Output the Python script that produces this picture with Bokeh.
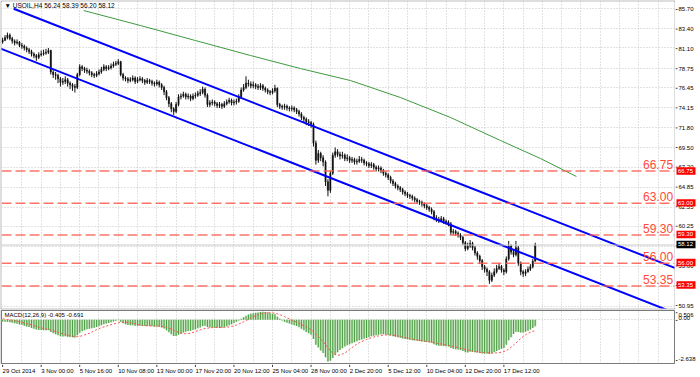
from bokeh.plotting import figure
from bokeh.models import Range1d, FixedTicker, Label, Span, ColumnDataSource
from bokeh.layouts import column, row
from bokeh.embed import file_html
from bokeh.resources import INLINE

# ---------------- data ----------------
first_open = 81.8
closes = [
    82.0, 82.3, 82.6, 82.2, 81.9, 81.7, 81.8, 81.4, 81.3, 81.1,
    80.9, 80.7, 80.4, 80.2, 80.0, 80.3, 80.4, 80.5, 80.6, 80.8,
    78.3, 78.0, 77.9, 77.5, 77.1, 77.2, 77.4, 77.0, 76.8, 76.6,
    76.5, 78.0, 78.9, 78.7, 78.5, 78.4, 78.2, 78.0, 77.9, 78.1,
    78.3, 78.6, 78.9, 78.7, 78.8, 79.0, 79.2, 79.3, 79.5, 78.0,
    77.6, 77.5, 77.3, 77.4, 77.6, 77.2, 77.4, 77.5, 77.3, 77.1,
    77.3, 77.2, 77.0, 76.9, 77.1, 76.8, 76.5, 76.0, 75.3, 74.6,
    74.0, 73.7, 74.5, 75.4, 75.5, 75.7, 75.4, 75.5, 75.2, 75.5,
    75.6, 75.8, 75.9, 76.3, 75.6, 74.5, 74.7, 74.8, 74.6, 74.4,
    74.5, 74.3, 74.6, 74.8, 75.0, 74.7, 74.8, 74.9, 75.4, 76.2,
    76.5, 77.0, 76.9, 76.7, 76.8, 76.6, 76.5, 76.7, 76.4, 76.2,
    76.0, 75.9, 76.1, 76.4, 74.5, 74.3, 74.2, 74.3, 74.1, 74.0,
    74.1, 73.9, 73.7, 73.4, 73.0, 72.8, 72.5, 72.4, 72.2, 70.0,
    68.0, 68.8, 68.3, 67.8, 65.5, 64.5, 66.5, 68.6, 69.0, 68.7,
    68.5, 68.6, 68.2, 68.3, 68.0, 68.1, 67.8, 67.9, 68.1, 68.0,
    67.7, 67.6, 67.4, 67.5, 67.2, 67.0, 67.1, 66.8, 66.5, 66.3,
    66.0, 65.6, 65.3, 65.0, 64.8, 64.6, 64.3, 64.1, 63.9, 63.8,
    63.6, 63.4, 63.2, 63.1, 62.9, 62.7, 62.5, 62.3, 62.0, 61.3,
    61.1, 61.0, 61.2, 60.9, 60.8, 60.6, 59.6, 59.7, 59.5, 59.3,
    59.0, 58.4, 57.7, 58.0, 58.3, 57.8, 57.2, 56.8, 56.3, 55.6,
    55.3, 55.0, 54.0, 54.6, 55.0, 55.4, 55.6, 55.2, 55.0, 56.5,
    58.0, 57.3, 57.0, 57.8, 56.0, 55.0, 54.8, 55.0, 55.3, 55.6,
    56.24, 58.12]
highs = [
    82.3, 82.6, 82.9, 82.8, 82.4, 82.1, 82.1, 81.9, 81.7, 81.5,
    81.3, 81.1, 80.9, 80.6, 80.4, 80.6, 80.8, 80.9, 81.0, 81.1,
    80.9, 78.5, 78.3, 78.1, 77.7, 77.6, 77.8, 77.6, 77.2, 77.0,
    76.9, 78.2, 79.2, 79.1, 78.9, 78.8, 78.6, 78.4, 78.2, 78.4,
    78.6, 78.9, 79.2, 79.1, 79.1, 79.3, 79.5, 79.6, 79.8, 79.6,
    78.2, 77.8, 77.7, 77.7, 77.9, 77.8, 77.7, 77.8, 77.7, 77.5,
    77.6, 77.5, 77.4, 77.2, 77.4, 77.3, 77.0, 76.7, 76.2, 75.5,
    74.8, 74.2, 74.8, 75.7, 75.8, 76.0, 75.9, 75.8, 75.7, 75.8,
    75.9, 76.1, 76.3, 76.6, 76.5, 75.8, 75.0, 75.1, 75.0, 74.8,
    74.8, 74.7, 74.9, 75.1, 75.3, 75.2, 75.1, 75.2, 75.7, 76.5,
    76.9, 77.8, 77.4, 77.2, 77.2, 77.0, 76.9, 77.0, 76.9, 76.6,
    76.4, 76.2, 76.4, 76.8, 76.5, 74.7, 74.5, 74.6, 74.5, 74.3,
    74.4, 74.3, 74.1, 73.9, 73.6, 73.2, 73.0, 72.8, 72.6, 72.4,
    70.3, 69.2, 69.0, 68.6, 68.0, 65.8, 66.8, 68.9, 69.5, 69.3,
    69.0, 69.0, 68.8, 68.7, 68.5, 68.4, 68.3, 68.2, 68.5, 68.4,
    68.2, 67.9, 67.8, 67.8, 67.7, 67.4, 67.4, 67.3, 67.0, 66.7,
    66.5, 66.2, 65.8, 65.5, 65.2, 65.0, 64.8, 64.5, 64.3, 64.1,
    64.0, 63.8, 63.6, 63.4, 63.3, 63.1, 62.9, 62.7, 62.5, 62.2,
    61.6, 61.4, 61.5, 61.4, 61.1, 61.0, 60.8, 60.0, 59.9, 59.7,
    59.5, 59.2, 58.6, 58.4, 58.7, 58.5, 58.0, 57.4, 57.0, 56.5,
    55.8, 55.5, 55.2, 54.9, 55.4, 55.8, 56.0, 55.8, 55.4, 56.8,
    58.6, 58.2, 57.6, 58.6, 58.0, 56.2, 55.2, 55.3, 55.6, 55.9,
    56.5, 58.39]
lows = [
    81.6, 81.9, 82.1, 82.0, 81.6, 81.4, 81.5, 81.2, 81.0, 80.8,
    80.6, 80.4, 80.1, 79.9, 79.6, 79.8, 80.1, 80.2, 80.3, 80.4,
    78.0, 77.6, 77.4, 77.0, 76.6, 76.8, 76.9, 76.6, 76.3, 76.1,
    75.9, 76.3, 77.8, 78.4, 78.2, 78.1, 77.9, 77.7, 77.6, 77.7,
    77.9, 78.1, 78.4, 78.4, 78.5, 78.6, 78.8, 79.0, 79.1, 77.8,
    77.3, 77.2, 77.0, 77.1, 77.2, 76.9, 77.0, 77.2, 77.0, 76.8,
    76.9, 76.9, 76.7, 76.6, 76.7, 76.5, 76.2, 75.6, 75.0, 74.2,
    73.6, 73.3, 73.5, 74.3, 75.1, 75.3, 75.1, 75.1, 74.9, 75.0,
    75.2, 75.4, 75.5, 75.7, 75.3, 74.2, 74.2, 74.4, 74.3, 74.1,
    74.1, 74.0, 74.1, 74.4, 74.6, 74.4, 74.4, 74.5, 74.7, 75.2,
    76.0, 76.3, 76.6, 76.4, 76.4, 76.3, 76.2, 76.2, 76.1, 75.9,
    75.7, 75.6, 75.7, 75.9, 74.2, 74.0, 73.9, 73.9, 73.8, 73.7,
    73.7, 73.6, 73.4, 73.1, 72.7, 72.4, 72.1, 72.0, 71.8, 69.6,
    67.5, 67.7, 67.9, 67.3, 65.0, 63.8, 64.2, 66.3, 68.3, 68.4,
    68.1, 68.2, 67.9, 67.9, 67.7, 67.7, 67.5, 67.5, 67.7, 67.7,
    67.4, 67.3, 67.1, 67.1, 66.9, 66.7, 66.7, 66.5, 66.2, 66.0,
    65.7, 65.3, 65.0, 64.7, 64.5, 64.3, 64.0, 63.8, 63.6, 63.5,
    63.3, 63.1, 62.9, 62.8, 62.6, 62.4, 62.2, 62.0, 61.7, 61.0,
    60.8, 60.7, 60.8, 60.6, 60.5, 60.3, 59.3, 59.3, 59.2, 59.0,
    58.7, 58.1, 57.4, 57.5, 57.8, 57.5, 56.9, 56.4, 55.9, 55.2,
    54.9, 54.5, 53.6, 53.8, 54.4, 54.8, 55.2, 54.9, 54.6, 54.8,
    56.3, 57.0, 56.7, 56.8, 55.7, 54.6, 54.4, 54.5, 54.9, 55.1,
    55.4, 56.20]
macd_hist = [
    -0.10, -0.12, -0.12, -0.15, -0.18, -0.22, -0.25, -0.30, -0.33, -0.37,
    -0.42, -0.46, -0.52, -0.57, -0.62, -0.64, -0.65, -0.66, -0.66, -0.64,
    -0.78, -0.86, -0.92, -0.98, -1.04, -1.06, -1.05, -1.07, -1.09, -1.11,
    -1.12, -0.98, -0.82, -0.73, -0.66, -0.60, -0.56, -0.53, -0.50, -0.46,
    -0.41, -0.35, -0.28, -0.24, -0.20, -0.15, -0.10, -0.06, -0.02, -0.12,
    -0.22, -0.28, -0.33, -0.35, -0.35, -0.38, -0.38, -0.37, -0.38, -0.40,
    -0.39, -0.39, -0.41, -0.43, -0.42, -0.44, -0.48, -0.55, -0.66, -0.79,
    -0.92, -1.02, -1.03, -0.95, -0.88, -0.80, -0.76, -0.71, -0.70, -0.65,
    -0.60, -0.54, -0.48, -0.40, -0.38, -0.45, -0.48, -0.49, -0.50, -0.51,
    -0.52, -0.50, -0.46, -0.41, -0.35, -0.28, -0.20, -0.12, -0.04, 0.06,
    0.16, 0.26, 0.33, 0.38, 0.42, 0.45, 0.47, 0.49, 0.506, 0.49,
    0.46, 0.42, 0.38, 0.36, 0.20, 0.06, -0.05, -0.12, -0.18, -0.24,
    -0.29, -0.34, -0.40, -0.47, -0.56, -0.66, -0.77, -0.86, -0.95, -1.22,
    -1.58, -1.76, -1.94, -2.10, -2.38, -2.638, -2.60, -2.42, -2.22, -2.06,
    -1.92, -1.80, -1.70, -1.62, -1.55, -1.48, -1.42, -1.36, -1.30, -1.25,
    -1.20, -1.15, -1.10, -1.05, -1.01, -0.98, -0.94, -0.92, -0.92, -0.93,
    -0.96, -1.00, -1.04, -1.08, -1.11, -1.14, -1.18, -1.21, -1.24, -1.26,
    -1.29, -1.31, -1.33, -1.35, -1.37, -1.39, -1.41, -1.43, -1.46, -1.55,
    -1.61, -1.65, -1.64, -1.66, -1.67, -1.69, -1.79, -1.83, -1.86, -1.89,
    -1.92, -1.98, -2.06, -2.07, -2.03, -2.02, -2.05, -2.07, -2.10, -2.13,
    -2.13, -2.14, -2.16, -2.12, -2.06, -1.98, -1.90, -1.84, -1.78, -1.58,
    -1.30, -1.10, -0.90, -0.75, -0.78, -0.80, -0.80, -0.76, -0.70, -0.62,
    -0.52, -0.405]
macd_signal = [
    0.06, 0.04, 0.02, 0.00, -0.03, -0.06, -0.09, -0.12, -0.16, -0.20,
    -0.24, -0.28, -0.32, -0.37, -0.42, -0.47, -0.51, -0.55, -0.58, -0.61,
    -0.65, -0.69, -0.74, -0.79, -0.84, -0.89, -0.93, -0.97, -1.01, -1.04,
    -1.06, -1.07, -1.05, -1.01, -0.96, -0.91, -0.85, -0.78, -0.70, -0.62,
    -0.56, -0.50, -0.45, -0.40, -0.35, -0.31, -0.27, -0.23, -0.19, -0.16,
    -0.15, -0.15, -0.16, -0.18, -0.21, -0.25, -0.29, -0.33, -0.36, -0.37,
    -0.38, -0.38, -0.39, -0.39, -0.40, -0.40, -0.42, -0.44, -0.48, -0.53,
    -0.59, -0.66, -0.73, -0.79, -0.84, -0.87, -0.88, -0.87, -0.84, -0.80,
    -0.75, -0.69, -0.64, -0.59, -0.55, -0.53, -0.51, -0.49, -0.48, -0.48,
    -0.48, -0.48, -0.48, -0.47, -0.45, -0.42, -0.38, -0.33, -0.27, -0.20,
    -0.13, -0.05, 0.03, 0.11, 0.19, 0.26, 0.32, 0.37, 0.41, 0.44,
    0.45, 0.45, 0.44, 0.42, 0.38, 0.33, 0.27, 0.20, 0.13, 0.06,
    -0.01, -0.08, -0.15, -0.22, -0.30, -0.38, -0.46, -0.55, -0.64, -0.76,
    -0.90, -1.05, -1.22, -1.39, -1.58, -1.78, -1.96, -2.11, -2.21, -2.25,
    -2.23, -2.18, -2.10, -2.00, -1.88, -1.76, -1.64, -1.54, -1.45, -1.38,
    -1.31, -1.25, -1.19, -1.14, -1.09, -1.05, -1.02, -0.99, -0.97, -0.96,
    -0.96, -0.96, -0.98, -1.00, -1.03, -1.06, -1.09, -1.12, -1.16, -1.19,
    -1.22, -1.25, -1.28, -1.30, -1.32, -1.35, -1.37, -1.39, -1.41, -1.44,
    -1.47, -1.51, -1.54, -1.57, -1.60, -1.63, -1.66, -1.69, -1.72, -1.76,
    -1.80, -1.84, -1.88, -1.92, -1.95, -1.98, -2.01, -2.04, -2.06, -2.07,
    -2.08, -2.09, -2.10, -2.11, -2.11, -2.10, -2.08, -2.05, -2.01, -1.95,
    -1.86, -1.74, -1.61, -1.47, -1.33, -1.19, -1.06, -0.95, -0.86, -0.79,
    -0.73, -0.691]

ma_bars = [33.6, 57.2, 80.0, 102.9, 123.6, 144.4, 165.1, 185.9, 206.6, 223.2, 238.1]
ma_vals = [85.47, 83.72, 81.97, 80.22, 78.70, 77.30, 75.32, 72.99, 70.31, 68.21, 66.11]

upper_channel_bars = [4.6, 279.5]
upper_channel_vals = [85.67, 55.39]
lower_channel_bars = [-1.0, 276.0]
lower_channel_vals = [81.05, 50.52]

levels = [66.75, 63.00, 59.30, 56.00, 53.35]
last_price = 58.12
price_ticks = [85.70, 83.40, 81.10, 78.75, 76.45, 74.15, 71.80, 69.50, 67.20,
               64.85, 62.55, 60.25, 57.95, 55.60, 53.30, 50.95]
time_label_bars = [0, 16, 32, 48, 64, 80, 96, 112, 128, 144, 160, 176, 192, 208]
time_labels = ["29 Oct 2014", "3 Nov 00:00", "5 Nov 16:00", "10 Nov 08:00", "13 Nov 00:00",
               "17 Nov 20:00", "20 Nov 12:00", "25 Nov 04:00", "28 Nov 00:00", "2 Dec 20:00",
               "5 Dec 12:00", "10 Dec 04:00", "12 Dec 20:00", "17 Dec 12:00"]
grid_bars = list(range(8, 279, 8))
title_text = "\u25BC USOIL,H4  56.24 58.39 56.20 58.12"
macd_text = "MACD(12,26,9) -0.405 -0.691"
macd_ticks = [0.506, 0.0, -2.638]
macd_tick_labels = ["0.506", "0.00", "-2.638"]
macd_tick_baselines = ["top", "bottom", "bottom"]

N = len(closes)
assert len(highs) == N and len(lows) == N and len(macd_hist) == N and len(macd_signal) == N

opens = [first_open] + closes[:-1]
bars = list(range(N))
src = ColumnDataSource(dict(
    x=bars, o=opens, c=closes, h=highs, l=lows,
    top=[max(a, b) for a, b in zip(opens, closes)],
    bot=[min(a, b) for a, b in zip(opens, closes)],
    hist=macd_hist, sig=macd_signal))

FONT = "Liberation Sans"
GRID = "#c4c4c4"
BORDER = "#7a7a7a"
LEVEL = "#ff5a50"

XR = Range1d(-0.456, 278.8)
P_LO, P_HI = 50.72, 86.52
MAIN_H = 309
PX_PER_PRICE = (MAIN_H - 2) / (P_HI - P_LO)


def bare(fig):
    fig.toolbar.logo = None
    fig.background_fill_color = "white"
    fig.outline_line_color = None
    fig.xgrid.visible = False
    fig.ygrid.visible = False
    return fig


# ---------------- main price panel ----------------
p = figure(width=675, height=MAIN_H, x_range=XR, y_range=Range1d(P_LO, P_HI),
           output_backend="svg", toolbar_location=None,
           x_axis_location=None, y_axis_location=None,
           min_border_left=1, min_border_right=1, min_border_top=1, min_border_bottom=1)
p.background_fill_color = "white"
p.border_fill_color = BORDER
p.outline_line_color = None

p.xgrid.ticker = FixedTicker(ticks=grid_bars)
p.ygrid.ticker = FixedTicker(ticks=price_ticks)
for g in (p.xgrid, p.ygrid):
    g.grid_line_color = GRID
    g.grid_line_dash = "1 2"
    g.grid_line_width = 1

for lv in levels:
    p.add_layout(Span(location=lv, dimension="width", line_color=LEVEL,
                      line_dash="10 4", line_width=1.5, line_alpha=0.85))
p.add_layout(Span(location=last_price, dimension="width", line_color="#c8c8c8", line_width=1))

p.line(ma_bars, ma_vals, line_color="#3f9a3f", line_width=1)

p.segment(x0="x", y0="l", x1="x", y1="h", source=src, line_color="#111111", line_width=1)
p.vbar(x="x", width=0.5, top="top", bottom="bot", source=src,
       fill_color="#111111", line_color="#111111", line_width=0.5)

p.line(upper_channel_bars, upper_channel_vals, line_color="#0000ff", line_width=2)
p.line(lower_channel_bars, lower_channel_vals, line_color="#0000ff", line_width=2)

for lv in levels:
    p.add_layout(Label(x=278.2, y=lv + 2.0 / PX_PER_PRICE, text=f"{lv:.2f}",
                       text_align="right", text_baseline="bottom",
                       text_font=FONT, text_font_size="12px", text_color="#ff4a3a"))

p.add_layout(Label(x=0.8, y=P_HI - 4.0 / PX_PER_PRICE, text=title_text, text_align="left",
                   text_baseline="middle", text_font=FONT, text_font_size="6.5px",
                   text_color="#000000"))

# right price scale strip (shares the price range, 1 unit = 1 px horizontally)
r1 = figure(width=25, height=MAIN_H, x_range=Range1d(0, 25),
            y_range=Range1d(P_LO - 1 / PX_PER_PRICE, P_HI + 1 / PX_PER_PRICE),
            output_backend="svg", toolbar_location=None,
            x_axis_location=None, y_axis_location=None,
            min_border_left=0, min_border_right=0, min_border_top=0, min_border_bottom=0)
bare(r1)
r1.segment(x0=[0] * len(price_ticks), y0=price_ticks, x1=[2] * len(price_ticks), y1=price_ticks,
           line_color="#444444", line_width=1)
r1.text(x=[3] * len(price_ticks), y=price_ticks, text=[f"{t:.2f}" for t in price_ticks],
        text_font={"value": FONT}, text_font_size={"value": "6px"}, text_color="#000000",
        text_baseline="middle", text_align="left")
tag_vals = levels + [last_price]
tag_fill = ["#ff0000"] * len(levels) + ["#000000"]
r1.rect(x=[10.5] * len(tag_vals), y=tag_vals, width=[19] * len(tag_vals),
        height=[7.5 / PX_PER_PRICE] * len(tag_vals), fill_color=tag_fill, line_color=None)
r1.text(x=[2.5] * len(tag_vals), y=tag_vals, text=[f"{v:.2f}" for v in tag_vals],
        text_font={"value": FONT}, text_font_size={"value": "6px"}, text_color="#ffffff",
        text_baseline="middle", text_align="left")

# ---------------- MACD panel ----------------
M_LO, M_HI = -2.77, 0.59
MACD_H = 55
PX_PER_MACD = (MACD_H - 2) / (M_HI - M_LO)
m = figure(width=675, height=MACD_H, x_range=XR, y_range=Range1d(M_LO, M_HI),
           output_backend="svg", toolbar_location=None,
           x_axis_location=None, y_axis_location=None,
           min_border_left=1, min_border_right=1, min_border_top=1, min_border_bottom=1)
m.background_fill_color = "white"
m.border_fill_color = BORDER
m.outline_line_color = BORDER
m.outline_line_width = 1

m.xgrid.ticker = FixedTicker(ticks=grid_bars)
m.ygrid.ticker = FixedTicker(ticks=[0.0])
for g in (m.xgrid, m.ygrid):
    g.grid_line_color = GRID
    g.grid_line_dash = "1 2"
    g.grid_line_width = 1

m.vbar(x="x", width=1.0, top="hist", bottom=0, source=src, fill_color="#bfe2b6", line_color=None)
m.vbar(x="x", width=0.42, top="hist", bottom=0, source=src, fill_color="#4c9c45", line_color=None)
m.line(x="x", y="sig", source=src, line_color="#ff4d4d", line_dash="2 2", line_width=1)

m.add_layout(Label(x=0.8, y=M_HI - 4.0 / PX_PER_MACD, text=macd_text, text_align="left",
                   text_baseline="middle", text_font=FONT, text_font_size="6px",
                   text_color="#000000"))

r2 = figure(width=25, height=MACD_H, x_range=Range1d(0, 25),
            y_range=Range1d(M_LO - 1 / PX_PER_MACD, M_HI + 1 / PX_PER_MACD),
            output_backend="svg", toolbar_location=None,
            x_axis_location=None, y_axis_location=None,
            min_border_left=0, min_border_right=0, min_border_top=0, min_border_bottom=0)
bare(r2)
r2.segment(x0=[0] * 3, y0=macd_ticks, x1=[2] * 3, y1=macd_ticks, line_color="#444444", line_width=1)
for v, t, b in zip(macd_ticks, macd_tick_labels, macd_tick_baselines):
    r2.text(x=[3], y=[v], text=[t], text_font={"value": FONT}, text_font_size={"value": "6px"},
            text_color="#000000", text_baseline=b, text_align="left")

# ---------------- time scale strip ----------------
TIME_H = 13
t = figure(width=675, height=TIME_H, x_range=XR, y_range=Range1d(0, TIME_H),
           output_backend="svg", toolbar_location=None,
           x_axis_location=None, y_axis_location=None,
           min_border_left=1, min_border_right=1, min_border_top=0, min_border_bottom=0)
bare(t)
t.border_fill_color = "white"
t.segment(x0=time_label_bars, y0=[TIME_H] * len(time_label_bars),
          x1=time_label_bars, y1=[TIME_H - 2.5] * len(time_label_bars),
          line_color="#444444", line_width=1)
t.text(x=time_label_bars, y=[TIME_H - 6.5] * len(time_label_bars), text=time_labels,
       text_font={"value": FONT}, text_font_size={"value": "6px"}, text_color="#000000",
       text_baseline="middle", text_align="left")

layout = column(row(p, r1, spacing=0), row(m, r2, spacing=0), t, spacing=0)
open("out.html", "w").write(file_html(layout, INLINE))
